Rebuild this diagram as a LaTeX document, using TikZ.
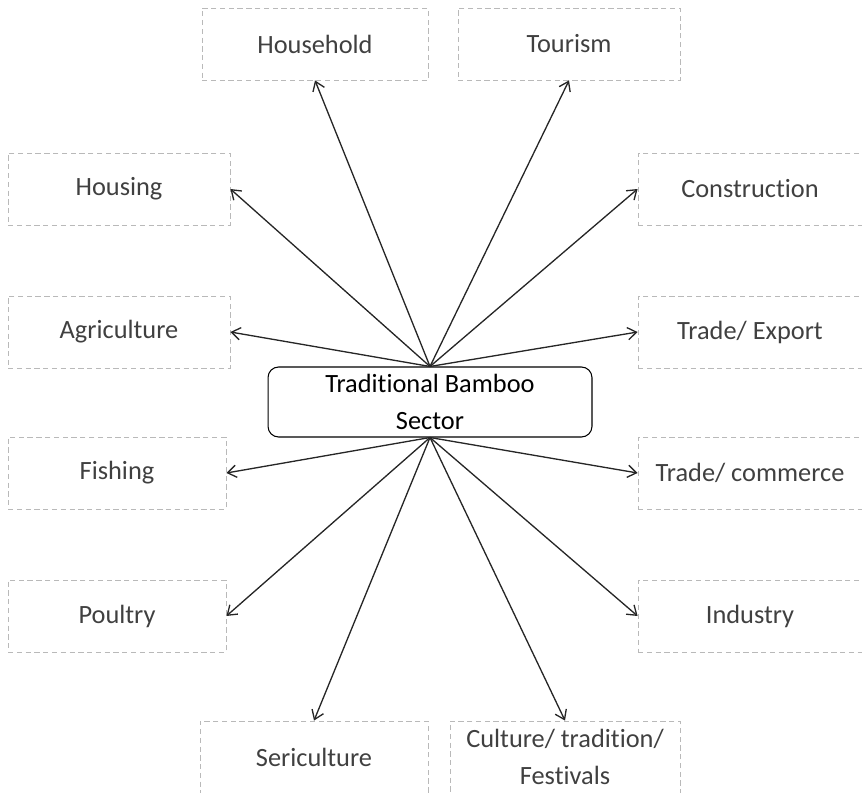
\documentclass[tikz,border=0pt]{standalone}
\usepackage{fontspec}
\setmainfont{Carlito}[Ligatures=NoCommon]
\usepackage{tikz}
\usetikzlibrary{arrows.meta}

\begin{document}
\begin{tikzpicture}[x=0.02cm, y=-0.02cm, every node/.style={font=\fontsize{15}{21}\selectfont, text=black!75},
    usebox/.style={draw=gray!55, densely dashed, line width=0.5pt, minimum height=1.44cm, align=center, inner sep=0pt},
    link/.style={-{Straight Barb[length=5pt, width=7pt]}, line width=0.75pt, black!85}]
    \useasboundingbox (0,0) rectangle (862,793);
    % Centre
    \node[draw, rounded corners=6pt, line width=0.6pt, minimum width=6.48cm, minimum height=1.4cm, align=center, text=black] (sector) at (430,402) {Tradit\kern0pt ional Bamboo\\Sector};

    % Uses on top
    \node[usebox, minimum width=4.52cm] (household) at (315,44) {Household};
    \node[usebox, minimum width=4.44cm] (tourism) at (569,44) {Tourism};

    % Uses on the left
    \node[usebox, minimum width=4.44cm] (housing) at (119,189) {Housing};
    \node[usebox, minimum width=4.44cm] (agriculture) at (119,332) {Agriculture};
    \node[usebox, minimum width=4.36cm] (fishing) at (117,473) {Fishing};
    \node[usebox, minimum width=4.36cm] (poultry) at (117,616) {Poultry};

    % Uses on the right
    \node[usebox, minimum width=4.48cm] (construction) at (750,189) {Construct\kern0pt ion};
    \node[usebox, minimum width=4.48cm] (export) at (750,332) {Trade/ Export};
    \node[usebox, minimum width=4.48cm] (commerce) at (750,473) {Trade/ commerce};
    \node[usebox, minimum width=4.48cm] (industry) at (750,616) {Industry};

    % Uses at the bottom
    \node[usebox, minimum width=4.56cm] (sericulture) at (314,757) {Sericulture};
    \node[usebox, minimum width=4.60cm] (culture) at (565,757) {Culture/ tradit\kern0pt ion/\\Festivals};

    % Arrows from the top of the centre
    \draw[link] (sector.north) -- (household.south);
    \draw[link] (sector.north) -- (tourism.south);
    \draw[link] (sector.north) -- (housing.east);
    \draw[link] (sector.north) -- (construction.west);
    \draw[link] (sector.north) -- (agriculture.east);
    \draw[link] (sector.north) -- (export.west);

    % Arrows from the bottom of the centre
    \draw[link] (sector.south) -- (fishing.east);
    \draw[link] (sector.south) -- (commerce.west);
    \draw[link] (sector.south) -- (poultry.east);
    \draw[link] (sector.south) -- (industry.west);
    \draw[link] (sector.south) -- (sericulture.north);
    \draw[link] (sector.south) -- (culture.north);
\end{tikzpicture}
\end{document}
